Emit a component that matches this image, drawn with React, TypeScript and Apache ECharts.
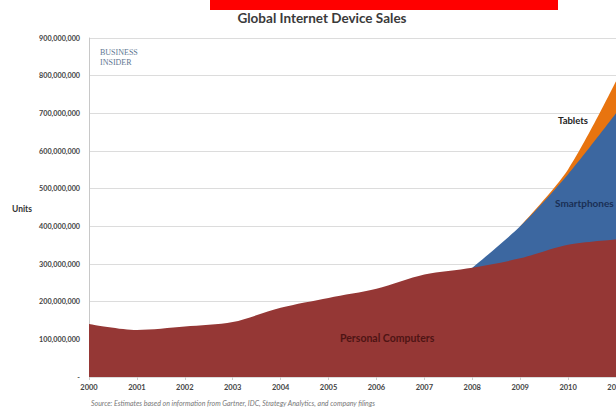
import React, { useEffect, useRef } from "react";
import * as echarts from "echarts";

const years = ["2000","2001","2002","2003","2004","2005","2006","2007","2008","2009","2010","2011"];
const personalComputers = [141e6, 125e6, 134e6, 146e6, 184e6, 210e6, 234e6, 272e6, 290e6, 315e6, 351e6, 365e6];
const smartphones = [null, null, null, null, null, null, null, null, 0, 85e6, 187e6, 335e6];
const tablets = [null, null, null, null, null, null, null, null, null, 0, 13e6, 85e6];

const FONT = "Lato, 'Open Sans', sans-serif";

export default function App() {
  const ref = useRef<HTMLDivElement>(null);
  useEffect(() => {
    if (!ref.current) return;
    const chart = echarts.init(ref.current, null, { renderer: "svg" });
    // cumulative tops for the layered (stacked-looking) areas
    const pcTop = personalComputers;
    const spTop = smartphones.map((v, i) => (v == null ? null : v + pcTop[i]));
    const tabTop = tablets.map((v, i) => (v == null ? null : v + (smartphones[i] ?? 0) + pcTop[i]));
    const mk = (name: string, data: (number | null)[], color: string) => ({
      name,
      type: "line",
      data,
      smooth: 0.3,
      symbol: "none",
      lineStyle: { width: 0 },
      areaStyle: { color, opacity: 1 },
      itemStyle: { color },
    });
    chart.setOption({
      animation: false,
      backgroundColor: "#ffffff",
      textStyle: { fontFamily: FONT },
      title: {
        text: "Global Internet Device Sales",
        left: 317,
        textAlign: "center",
        top: 6,
        textStyle: { fontSize: 13.5, fontWeight: "bold", color: "#3a3a3a", fontFamily: FONT },
      },
      grid: { left: 89, right: 0, top: 38, bottom: 32, containLabel: false, outerBoundsMode: "none" },
      xAxis: {
        type: "category",
        data: years,
        boundaryGap: false,
        axisLine: { show: false },
        axisTick: { show: true, length: 3, lineStyle: { color: "#cccccc" } },
        axisLabel: { fontSize: 7.5, fontWeight: "bold", color: "#444", margin: 6, fontFamily: FONT },
        splitLine: { show: false },
      },
      yAxis: {
        type: "value",
        min: 0,
        max: 900e6,
        interval: 100e6,
        axisLine: { show: true, lineStyle: { color: "#c8c8c8" } },
        axisTick: { show: false },
        axisLabel: {
          fontSize: 7.2,
          fontWeight: "bold",
          color: "#444",
          margin: 9,
          fontFamily: FONT,
          formatter: (v: number) => (v === 0 ? "-" : v.toLocaleString("en-US")),
        },
        splitLine: { show: true, lineStyle: { color: "#dcdcdc", width: 1 } },
      },
      series: [
        mk("Tablets", tabTop, "#e8740f"),
        mk("Smartphones", spTop, "#3c67a0"),
        mk("Personal Computers", pcTop, "#953735"),
      ],
      graphic: [
        { type: "rect", z: 100, shape: { x: 210, y: 0, width: 348, height: 10 }, style: { fill: "#ff0000" } },
        { type: "text", z: 100, x: 12, y: 209, style: { text: "Units", fontSize: 8.5, fontWeight: "bold", fill: "#333", fontFamily: FONT, verticalAlign: "middle" } },
        { type: "text", z: 100, x: 100, y: 52, style: { text: "BUSINESS", fontSize: 8, fill: "#5e7691", fontFamily: "'Liberation Serif', serif", verticalAlign: "middle" } },
        { type: "text", z: 100, x: 100, y: 62, style: { text: "INSIDER", fontSize: 8, fill: "#5e7691", fontFamily: "'Liberation Serif', serif", verticalAlign: "middle" } },
        { type: "text", z: 100, x: 558, y: 120, style: { text: "Tablets", fontSize: 9.5, fontWeight: "bold", fill: "#222", fontFamily: FONT, verticalAlign: "middle" } },
        { type: "text", z: 100, x: 555, y: 203, style: { text: "Smartphones", fontSize: 10, fontWeight: "bold", fill: "#1a2f55", fontFamily: FONT, verticalAlign: "middle" } },
        { type: "text", z: 100, x: 340, y: 338, style: { text: "Personal Computers", fontSize: 10.5, fontWeight: "bold", fill: "#4e1414", fontFamily: FONT, verticalAlign: "middle" } },
        { type: "text", z: 100, x: 91, y: 403, style: { text: "Source: Estimates based on information from Gartner, IDC, Strategy Analytics, and company filings", fontSize: 7, fontStyle: "italic", fill: "#777", fontFamily: FONT, verticalAlign: "middle" } },
      ],
    });
    return () => chart.dispose();
  }, []);
  return <div ref={ref} style={{ position: "fixed", left: 0, top: 0, width: 616, height: 409 }} />;
}
